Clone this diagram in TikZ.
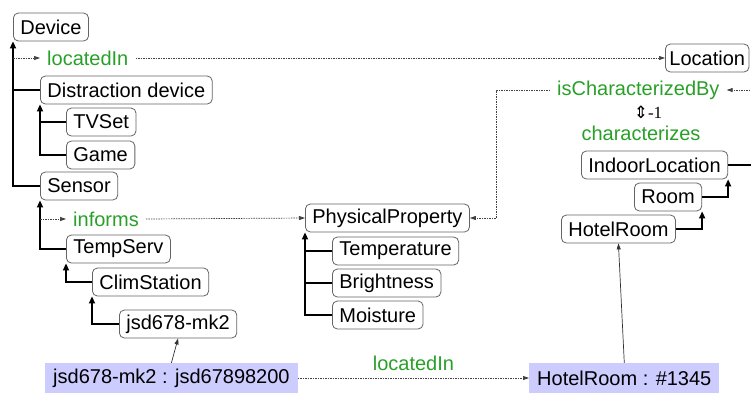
\documentclass[tikz,border=0pt]{standalone}
\usepackage{fontspec}
\setmainfont{Liberation Sans}
\newfontfamily\symfont{DejaVu Sans}
\newfontfamily\numfont{Liberation Serif}
\usetikzlibrary{arrows.meta,calc}
\definecolor{lblgreen}{RGB}{40,160,40}
\definecolor{instblue}{RGB}{204,204,255}
\definecolor{boxgray}{RGB}{100,100,100}
\begin{document}
\begin{tikzpicture}[x=1pt,y=-1pt,
  cls/.style={draw=boxgray,line width=0.8pt,rounded corners=5pt,fill=white,inner xsep=7pt,inner ysep=0pt,minimum height=28pt,anchor=west,font=\fontsize{20}{24}\selectfont},
  inst/.style={fill=instblue,inner xsep=8pt,inner ysep=0pt,minimum height=30pt,anchor=west,font=\fontsize{20}{24}\selectfont},
  rel/.style={text=lblgreen,inner xsep=7pt,inner ysep=2pt,font=\fontsize{20}{24}\selectfont},
  tree/.style={line width=1.6pt,draw=black},
  isa/.style={tree,-{Triangle[length=7pt,width=6pt]}},
  dotarrow/.style={line width=0.7pt,draw=black!75,dash pattern=on 1.5pt off 1pt,-{Triangle[length=6pt,width=4pt]}},
  instarrow/.style={line width=0.7pt,draw=black!80,-{Triangle[length=6pt,width=4pt]}}
]
\useasboundingbox (0,0) rectangle (751,392);
\clip (0,0) rectangle (751,392);

% left hierarchy
\node[cls] (dev) at (13,27) {Device};
\node[rel,anchor=west] (loc1) at (40,58) {locatedIn};
\node[cls] (dd) at (40,90) {Distraction device};
\node[cls] (tv) at (66,122) {TVSet};
\node[cls] (game) at (66,155) {Game};
\node[cls] (sensor) at (40,186) {Sensor};
\node[rel,anchor=west] (inf) at (66,219) {informs};
\node[cls] (ts) at (66,249) {TempServ};
\node[cls] (cs) at (92,282) {ClimStation};
\node[cls] (jsd) at (119,324) {jsd678-mk2};

% middle
\node[cls] (pp) at (305,218) {PhysicalProperty};
\node[cls] (temp) at (332,251) {Temperature};
\node[cls] (bright) at (332,283) {Brightness};
\node[cls] (moist) at (332,315) {Moisture};

% right
\node[cls,inner xsep=4pt] (locn) at (665,58) {Location};
\node[rel,anchor=west] (ic) at (550,90) {isCharacterizedBy};
\node (inv) at (648,112) {\fontsize{17}{19}\selectfont{\symfont ⇕}\numfont -1};
\node[rel] (chr) at (641,133) {characterizes};
\node[cls] (indoor) at (581,165) {IndoorLocation};
\node[cls] (room) at (634,197) {Room};
\node[cls] (hotel) at (561,229) {HotelRoom};

% instances
\node[inst] (inst1) at (45,378) {jsd678-mk2 : jsd67898200};
\node[inst] (inst2) at (529,378) {HotelRoom : \#1345};

\coordinate (offr) at (775,165);
\coordinate (offic) at (775,90);
\coordinate (bend) at (496,90);

% left hierarchy connectors
\draw[isa] (sensor.west) -| (dev.south west);
\draw[tree] (dd.west) -- (dd.west -| dev.south west);
\draw[dotarrow] (dev.south west |- loc1.west) -- (loc1.west);
\draw[dotarrow] (loc1.east) -- (locn.west);
\draw[isa] (game.west) -| (dd.south west);
\draw[tree] (tv.west) -- (tv.west -| dd.south west);
\draw[isa] (ts.west) -| (sensor.south west);
\draw[dotarrow] (sensor.south west |- inf.west) -- (inf.west);
\draw[dotarrow] (inf.east) -- (pp.west);
\draw[isa] (cs.west) -| (ts.south west);
\draw[isa] (jsd.west) -| (cs.south west);

% middle hierarchy
\draw[isa] (moist.west) -| (pp.south west);
\draw[tree] (temp.west) -- (temp.west -| pp.south west);
\draw[tree] (bright.west) -- (bright.west -| pp.south west);

% right hierarchy
\draw[isa] (room.east) -| (indoor.south east);
\draw[isa] (hotel.east) -| (room.south east);
\draw[tree] (indoor.east) -- (offr);
\draw[dotarrow] (offic) -- (ic.east);
\draw[dotarrow] (ic.west) -- (bend) |- (pp.east);

% instances
\draw[instarrow] (inst1.north) -- (jsd.south);
\draw[instarrow] (inst2.north) -- (hotel.south);
\draw[dotarrow] (inst1.east) -- node[rel,yshift=15pt] {locatedIn} (inst2.west);
\end{tikzpicture}
\end{document}
